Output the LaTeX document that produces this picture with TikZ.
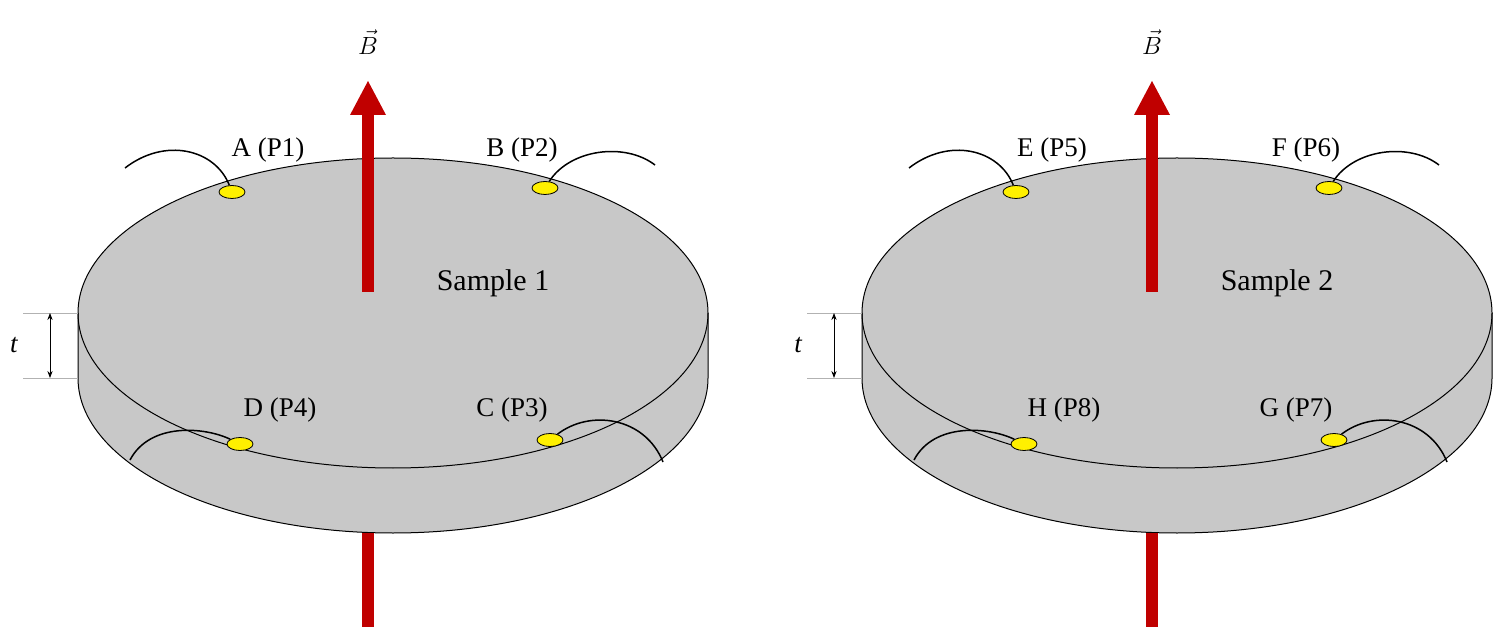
\documentclass[tikz,border=0pt]{standalone}
\usepackage{fontspec}
\setmainfont{Liberation Serif}
\usetikzlibrary{arrows.meta,shapes.geometric}
\definecolor{disk}{RGB}{200,200,200}
\definecolor{bred}{RGB}{192,0,0}
\definecolor{yel}{RGB}{255,240,0}
\begin{document}
\begin{tikzpicture}[x=1pt,y=1pt,
 diskline/.style={draw=black,line width=1pt},
 contact/.style={ellipse,draw=black,fill=yel,line width=0.8pt,minimum width=26pt,minimum height=13pt,inner sep=0pt},
 wire/.style={draw=black,line width=1.5pt},
 lab/.style={font=\fontsize{27}{29}\selectfont,inner sep=0pt},
 dimline/.style={draw=gray!60,line width=0.8pt}]
\newcommand{\mysampledisk}[9]{%
 \fill[disk] (78,314) -- (78,249) arc[start angle=180,end angle=360,x radius=315pt,y radius=155pt] -- (708,314) arc[start angle=0,end angle=180,x radius=315pt,y radius=155pt];
 \draw[diskline] (78,314) -- (78,249) arc[start angle=180,end angle=360,x radius=315pt,y radius=155pt] -- (708,314);
 \draw[diskline] (393,314) ellipse[x radius=315pt,y radius=155pt];
 \fill[bred] (362,335) rectangle (374,515);
 \fill[bred] (350,512) -- (386,512) -- (368,546) -- cycle;
 \fill[bred] (362,94) rectangle (374,0);
 \node[inner sep=0pt,font=\fontsize{32}{34}\selectfont] (bv) at (368,585) {$\vec{B}$};
 \node[lab,font=\fontsize{30}{32}\selectfont] (sl) at (#1,344) {#2};
 \node[contact] (ca) at (232,435) {};
 \node[contact] (cb) at (545,439) {};
 \node[contact] (cd) at (240,183) {};
 \node[contact] (cc) at (550,187) {};
 \node[lab] (la) at (#3,477) {#4};
 \node[lab] (lb) at (#5,477) {#6};
 \node[lab] (ld) at (#7,217) {#8};
 \node[lab] (lc) at (512,217) {#9};
 \coordinate (wa) at (125,459); \coordinate (wb) at (655,462);
 \coordinate (wd) at (130,167); \coordinate (wc) at (663,165);
 \draw[wire] (wa) .. controls (165,490) and (215,478) .. (ca);
 \draw[wire] (cb) .. controls (570,478) and (625,485) .. (wb);
 \draw[wire] (wd) .. controls (150,205) and (205,200) .. (cd);
 \draw[wire] (cc) .. controls (590,218) and (645,210) .. (wc);
 \draw[dimline] (23,314) -- (78,314);
 \draw[dimline] (23,249) -- (78,249);
 \coordinate (t1) at (50,314); \coordinate (t2) at (50,249);
 \draw[{Stealth[length=7pt]}-{Stealth[length=7pt]},line width=0.8pt] (t1) -- (t2);
 \node[lab,font=\fontsize{27}{29}\selectfont\itshape] (tl) at (14,282) {t};
}
\useasboundingbox (0,0) rectangle (1496,627);
\begin{scope}[name prefix=s1-]
\mysampledisk{493}{Sample 1}{268}{A (P1)}{522}{B (P2)}{280}{D (P4)}{C (P3)}
\end{scope}
\begin{scope}[xshift=784pt,name prefix=s2-]
\mysampledisk{493}{Sample 2}{268}{E (P5)}{522}{F (P6)}{280}{H (P8)}{G (P7)}
\end{scope}
\end{tikzpicture}
\end{document}
